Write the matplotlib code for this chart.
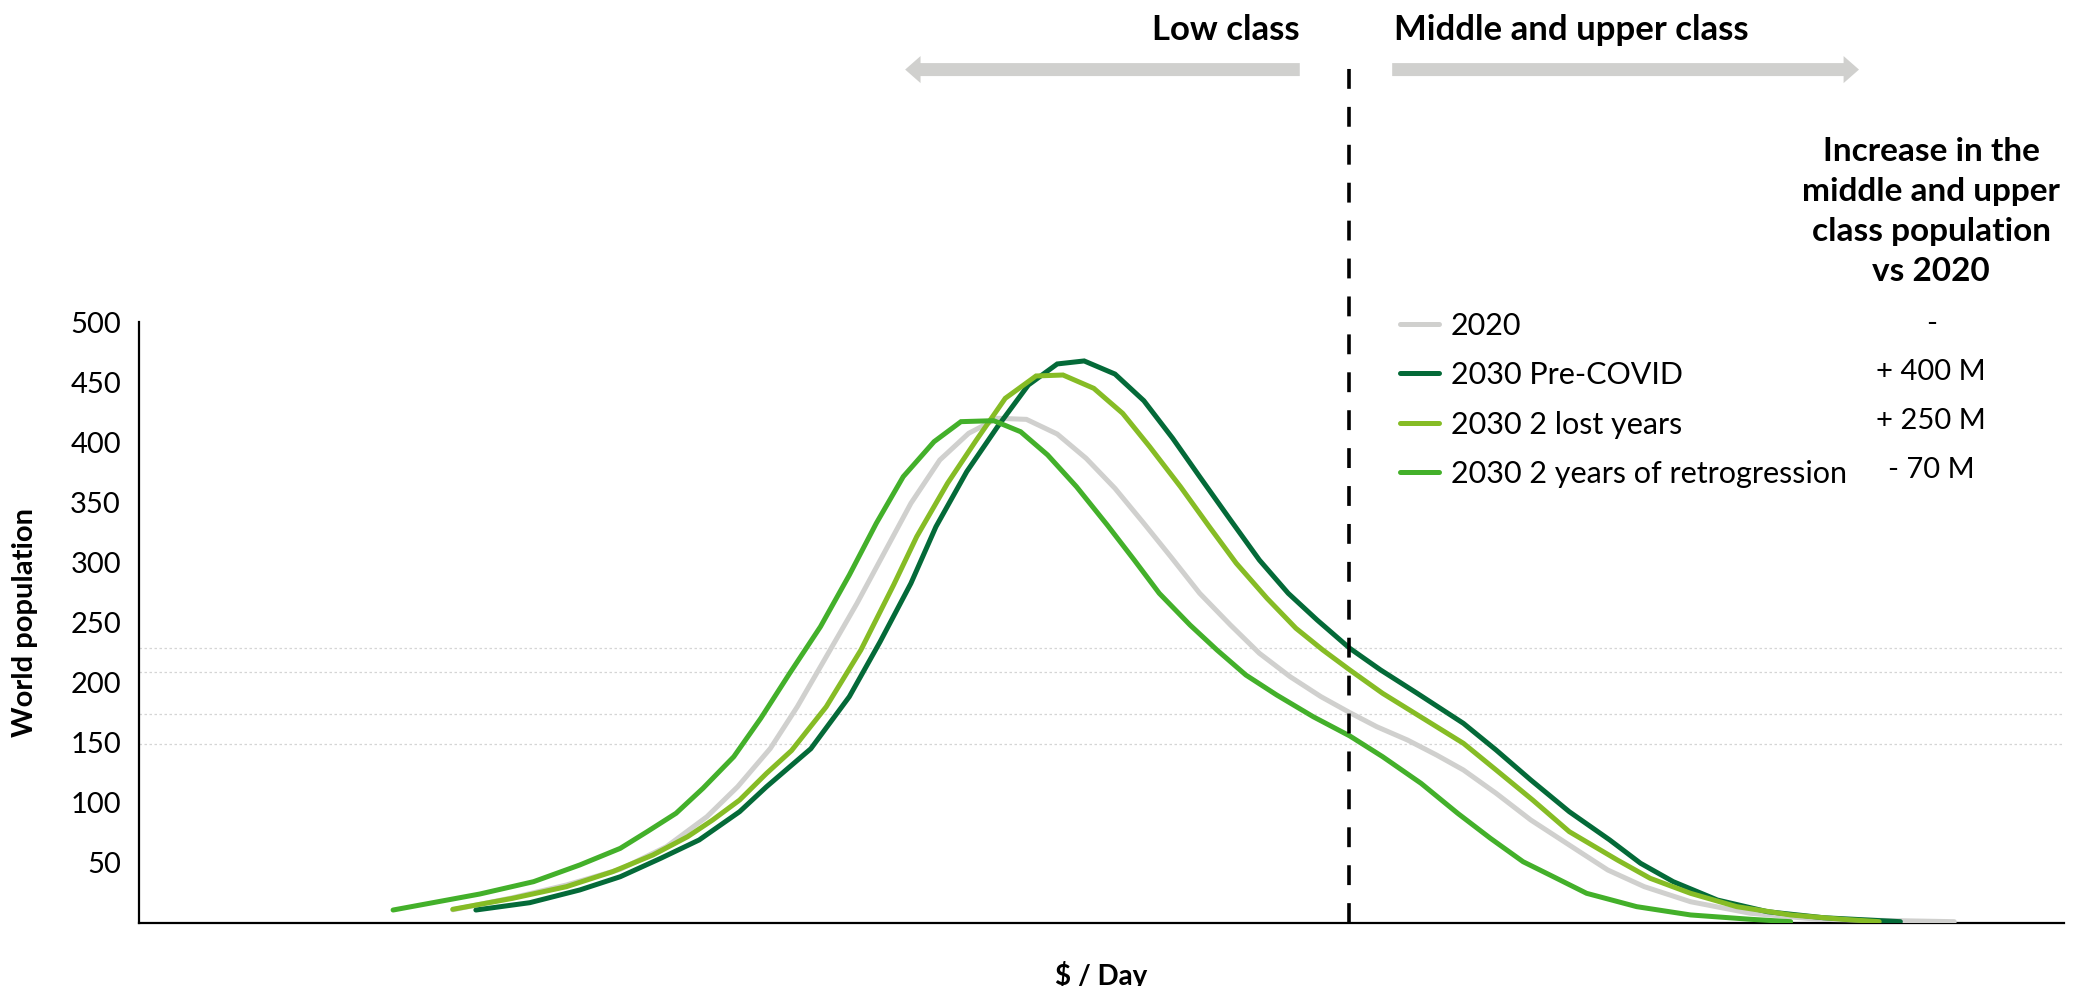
import matplotlib
matplotlib.use("Agg")
import matplotlib.pyplot as plt

plt.rcParams['font.family'] = ['Lato', 'DejaVu Sans']

# ---------------- data ----------------
series_names = ["2020", "2030 Pre-COVID", "2030 2 lost years", "2030 2 years of retrogression"]
series_colors = ["#D0D0CE", "#046A38", "#86BC25", "#43B02A"]

x_2020 = [16.3, 19.4, 22.2, 25.0, 27.4, 29.5, 31.1, 32.8, 34.2, 35.7, 37.3, 38.7, 40.1, 41.6, 43.1,
          44.6, 46.1, 47.7, 49.2, 50.7, 52.2, 53.6, 55.1, 56.7, 58.2, 59.8, 61.4, 62.9, 64.3, 65.9,
          67.4, 68.8, 70.5, 72.3, 74.7, 76.3, 78.2, 80.6, 83.7, 87.2, 94.3]
y_2020 = [11.0, 21.0, 31.6, 44.7, 63.5, 88.4, 113.4, 145.3, 180.0, 221.5, 266.0, 307.6, 349.2, 385.2, 407.4,
          419.9, 419.0, 406.8, 386.6, 361.6, 332.5, 304.7, 274.3, 247.9, 224.4, 204.9, 188.3, 175.0, 163.3, 152.2,
          139.8, 127.3, 107.9, 85.7, 60.7, 44.1, 30.2, 17.7, 8.1, 3.1, 1.1]

x_precovid = [17.5, 20.3, 22.9, 25.0, 27.1, 29.1, 31.2, 32.6, 34.9, 36.9, 38.5, 40.1, 41.4, 43.0, 44.6,
              46.2, 47.7, 49.1, 50.7, 52.2, 53.7, 55.1, 56.7, 58.2, 59.7, 61.2, 62.9, 64.5, 66.4, 68.8,
              70.5, 72.3, 74.3, 76.4, 78.0, 79.7, 82.0, 84.6, 87.5, 91.5]
y_precovid = [10.8, 16.9, 27.5, 38.5, 53.8, 69.1, 92.6, 113.4, 145.0, 188.3, 234.0, 282.6, 329.7, 375.5, 412.9,
              447.6, 465.1, 467.6, 456.7, 434.5, 403.2, 371.3, 335.3, 302.0, 274.3, 252.1, 228.5, 210.5, 191.1, 166.1,
              143.9, 119.0, 92.6, 69.1, 49.7, 34.4, 19.1, 9.4, 4.4, 1.1]

x_lost = [16.3, 19.4, 22.2, 24.6, 26.7, 28.5, 29.8, 31.2, 32.6, 33.9, 35.7, 37.5, 39.2, 40.4, 42.0,
          43.5, 45.0, 46.6, 48.0, 49.6, 51.1, 52.5, 54.1, 55.6, 57.0, 58.6, 60.1, 61.5, 62.9, 64.6,
          66.7, 68.8, 70.5, 72.4, 74.3, 76.8, 78.5, 80.6, 83.0, 85.8, 88.5, 90.4]
y_lost = [11.4, 20.5, 30.2, 42.7, 56.6, 71.8, 85.7, 102.3, 124.5, 143.5, 179.9, 227.1, 281.2, 321.4, 365.8,
          401.8, 436.5, 455.1, 455.9, 444.8, 424.0, 396.3, 363.0, 329.7, 299.3, 270.1, 245.2, 227.1, 210.5, 191.1,
          170.3, 149.5, 127.3, 102.3, 76.0, 52.4, 37.2, 24.7, 13.6, 6.7, 3.1, 1.1]

x_retro = [13.2, 17.7, 20.5, 22.9, 25.0, 26.4, 27.9, 29.3, 30.9, 32.3, 33.8, 35.4, 36.9, 38.3, 39.7,
           41.3, 42.7, 44.4, 45.8, 47.2, 48.7, 50.3, 51.7, 53.0, 54.6, 56.0, 57.5, 59.1, 61.0, 62.9,
           64.6, 66.6, 68.5, 70.2, 71.9, 73.3, 75.2, 77.8, 80.6, 83.7, 85.8]
y_retro = [10.8, 24.1, 34.4, 48.3, 62.1, 76.0, 91.3, 112.1, 138.4, 170.3, 207.7, 246.5, 289.5, 332.5, 371.3,
           400.4, 417.1, 417.9, 408.7, 389.4, 363.0, 331.1, 302.0, 274.3, 247.9, 227.1, 206.3, 189.7, 171.6, 155.6,
           138.4, 116.2, 91.3, 70.5, 51.0, 39.9, 24.7, 13.6, 6.7, 3.1, 1.1]

threshold_x = 62.87
threshold_levels = [228.9, 209.2, 174.1, 149.3]

yticks = [50, 100, 150, 200, 250, 300, 350, 400, 450, 500]

increase_title = "Increase in the\nmiddle and upper\nclass population\nvs 2020"
increase_values = ["-", "+ 400 M", "+ 250 M", "- 70 M"]

# ---------------- figure ----------------
W, H = 2084, 986
fig = plt.figure(figsize=(W / 100, H / 100), dpi=100)
ax_left, ax_right, ax_bottom, ax_top = 139, 2064, 923, 322
ax = fig.add_axes([ax_left / W, 1 - ax_bottom / H, (ax_right - ax_left) / W, (ax_bottom - ax_top) / H])
ax.set_xlim(0, 100)
ax.set_ylim(0, 500)

for sp in ["top", "right"]:
    ax.spines[sp].set_visible(False)
for sp in ["left", "bottom"]:
    ax.spines[sp].set_linewidth(1.6)
    ax.spines[sp].set_color("black")

ax.set_xticks([])
ax.set_yticks(yticks)
ax.tick_params(axis="y", length=0, pad=13, labelsize=21)

# dotted reference levels
for lv in threshold_levels:
    ax.axhline(lv, color="#D5D5D5", lw=0.9, ls=(0, (2, 2)), zorder=1)

xs = [x_2020, x_precovid, x_lost, x_retro]
ys = [y_2020, y_precovid, y_lost, y_retro]
for xv, yv, name, col in zip(xs, ys, series_names, series_colors):
    ax.plot(xv, yv, color=col, lw=3.6, label=name, solid_capstyle="round", solid_joinstyle="miter", zorder=3)

# dashed threshold line
ax.plot([threshold_x, threshold_x], [0, 711], color="black", lw=2.6, ls=(0, (5.5, 5)),
        clip_on=False, zorder=4)

# class arrows
arrow_col = "#D0D0CE"
arrow_y = 710
ax.arrow(60.3, arrow_y, 39.8 - 60.3, 0, width=10.8, head_width=22.5, head_length=0.8,
         length_includes_head=True, color=arrow_col, clip_on=False, lw=0)
ax.arrow(65.1, arrow_y, 89.35 - 65.1, 0, width=10.8, head_width=22.5, head_length=0.8,
         length_includes_head=True, color=arrow_col, clip_on=False, lw=0)
ax.text(60.3, 743, "Low class", ha="right", va="center", fontsize=25, fontweight="bold", clip_on=False)
ax.text(65.2, 743, "Middle and upper class", ha="left", va="center", fontsize=25, fontweight="bold",
        clip_on=False)

# axis labels
ax.set_ylabel("World population", fontsize=21, fontweight="bold", va="center")
ax.yaxis.set_label_coords((25 - ax_left) / (ax_right - ax_left), 0.5)
ax.set_xlabel(r"\$ / Day", fontsize=20, fontweight="bold")
ax.xaxis.set_label_coords(0.5, -(975 - ax_bottom) / (ax_bottom - ax_top))
ax.xaxis.label.set_va("center")

# legend
leg = ax.legend(loc="upper left", bbox_to_anchor=((1399.5 - ax_left) / (ax_right - ax_left), 1.017),
                frameon=False, fontsize=22, handlelength=1.28, handletextpad=0.4,
                labelspacing=0.7, borderpad=0, borderaxespad=0)

# increase column
ax.text(93.1, 592, increase_title, ha="center", va="center", fontsize=24, fontweight="bold",
        linespacing=1.46, clip_on=False)
val_levels = [498.0, 458.5, 417.5, 377.0]
for lab, lv in zip(increase_values, val_levels):
    ax.text(93.1, lv, lab, ha="center", va="center", fontsize=21, clip_on=False)

fig.savefig("out.png", dpi=100)
